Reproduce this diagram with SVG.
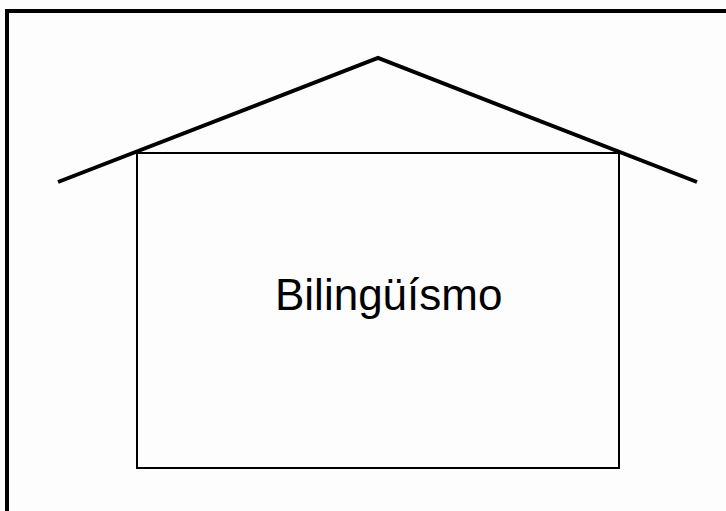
<svg xmlns="http://www.w3.org/2000/svg" width="726" height="511" viewBox="0 0 726 511">
<style>
.frame{fill:none;stroke:#000;stroke-width:4}
.roof{fill:none;stroke:#000;stroke-width:4;stroke-linejoin:miter}
.body{fill:none;stroke:#000;stroke-width:2}
.lbl{font-family:"Liberation Sans",Arial,sans-serif;font-size:44px;fill:#000}
</style>
<rect width="726" height="511" fill="#fdfdfd"/>
<rect class="frame" x="7" y="11" width="740" height="520"/>
<g id="house">
<rect class="body" x="137" y="153" width="482" height="315"/>
<polyline class="roof" points="58,182 378,58 697,182"/>
<text class="lbl" x="275" y="310">Bilingüísmo</text>
</g>
</svg>
